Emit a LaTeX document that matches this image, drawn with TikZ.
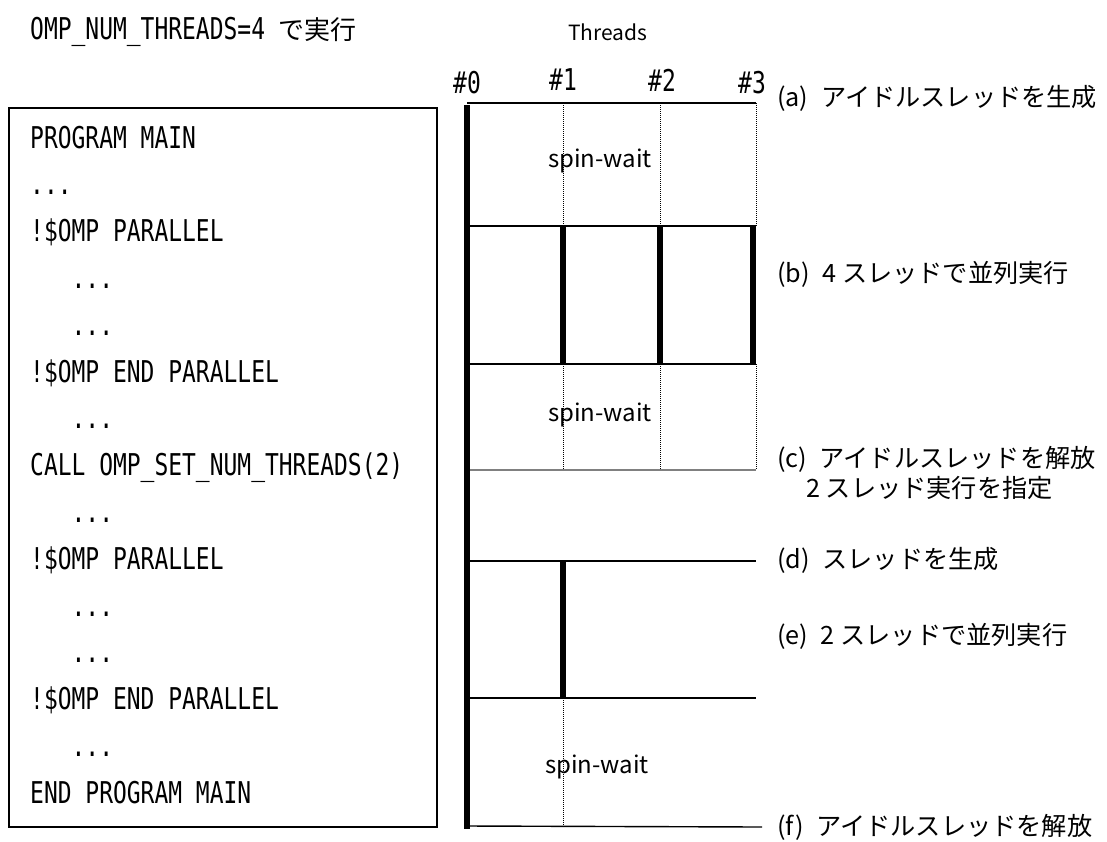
\documentclass[tikz,border=0pt]{standalone}
\usepackage{fontspec}
\setmainfont{Noto Sans CJK JP}
\newfontfamily\codefont[FakeStretch=0.765]{DejaVu Sans Mono}
\newcommand{\threedots}{...}
\newcommand{\ind}{\phantom{000}}
\newcommand{\tag}[1]{(#1)\hspace{0.5em}}

\begin{document}
\begin{tikzpicture}[x=1pt,y=-1pt,
    codeline/.style={anchor=base west,inner sep=0pt,font={\codefont\fontsize{30}{32}\selectfont}},
    tlabel/.style={inner sep=0pt,font={\codefont\fontsize{30}{32}\selectfont}},
    note/.style={anchor=west,inner sep=0pt,font={\fontsize{25.2}{27}\selectfont}},
    spinlabel/.style={inner sep=0pt,font={\fontsize{24}{26}\selectfont}},
    rowline/.style={line width=1.4pt},
    busy/.style={line width=5.5pt},
    idle/.style={line width=0.8pt,dash pattern=on 1pt off 1pt}]
  \useasboundingbox (0,0) rectangle (1107,841);

  % heading
  \node[anchor=west,inner sep=0pt] (title) at (30,32)
    {{\codefont\fontsize{30}{32}\selectfont OMP\_NUM\_THREADS=4 }{\fontsize{26}{28}\selectfont で実行}};
  \node[inner sep=0pt,font={\fontsize{21}{23}\selectfont}] (threads) at (608,32) {Threads};

  % source code
  \draw[line width=1.3pt] (9,108) rectangle (437,827);
  \foreach \txt [count=\i from 0] in {PROGRAM MAIN, \threedots, !\$OMP PARALLEL,
      \ind\threedots, \ind\threedots, !\$OMP END PARALLEL, \ind\threedots,
      CALL OMP\_SET\_NUM\_THREADS(2), \ind\threedots, !\$OMP PARALLEL,
      \ind\threedots, \ind\threedots, !\$OMP END PARALLEL, \ind\threedots,
      END PROGRAM MAIN}
    \node[codeline] (l\i) at (30,148+46.8*\i) {\txt};

  % threads and phases
  \coordinate (c0) at (467,0);
  \coordinate (c1) at (563,0);
  \coordinate (c2) at (660,0);
  \coordinate (c3) at (756,0);
  \coordinate (c3b) at (753,0);
  \coordinate (ra) at (0,103);
  \coordinate (rb) at (0,226);
  \coordinate (rc) at (0,364);
  \coordinate (rd) at (0,470);
  \coordinate (re) at (0,561);
  \coordinate (rf) at (0,698);
  \coordinate (rg) at (0,826);
  \coordinate (end) at (762,827);

  \node[tlabel] (n0) at (467,83) {\#0};
  \node[tlabel] (n1) at (563,80) {\#1};
  \node[tlabel] (n2) at (662,80) {\#2};
  \node[tlabel] (n3) at (752,83) {\#3};

  \draw[rowline] (c0 |- ra) -- (c3 |- ra);
  \draw[rowline] (c0 |- rb) -- (c3 |- rb);
  \draw[rowline] (c0 |- rc) -- (c3 |- rc);
  \draw[rowline,gray] (c0 |- rd) -- (c3 |- rd);
  \draw[rowline] (c0 |- re) -- (c3 |- re);
  \draw[rowline] (c0 |- rf) -- (c3 |- rf);
  \draw[rowline] (c0 |- rg) -- (end);

  \begin{scope}[idle]
    \draw (c1 |- ra) -- (c1 |- rb);
    \draw (c2 |- ra) -- (c2 |- rb);
    \draw (c3 |- ra) -- (c3 |- rb);
    \draw (c1 |- rc) -- (c1 |- rd);
    \draw (c2 |- rc) -- (c2 |- rd);
    \draw (c3 |- rc) -- (c3 |- rd);
    \draw (c1 |- rf) -- (c1 |- rg);
  \end{scope}

  \begin{scope}[busy]
    \draw (467,105) -- (467,829);
    \draw (c1 |- rb) -- (c1 |- rc);
    \draw (c2 |- rb) -- (c2 |- rc);
    \draw (c3b |- rb) -- (c3b |- rc);
    \draw (c1 |- re) -- (c1 |- rf);
  \end{scope}

  \node[spinlabel] (s1) at (600,161) {spin-wait};
  \node[spinlabel] (s2) at (600,415) {spin-wait};
  \node[spinlabel] (s3) at (597,767) {spin-wait};

  % phase notes
  \node[note] (pa) at (777,98) {\tag{a}アイドルスレッドを生成};
  \node[note] (pb) at (777,274) {\tag{b}4 スレッドで並列実行};
  \node[note] (pc) at (777,459) {\tag{c}アイドルスレッドを解放};
  \node[note] (pc2) at (806,488) {2 スレッド実行を指定};
  \node[note] (pd) at (777,560) {\tag{d}スレッドを生成};
  \node[note] (pe) at (777,636) {\tag{e}2 スレッドで並列実行};
  \node[note] (pf) at (777,827) {\tag{f}アイドルスレッドを解放};
\end{tikzpicture}
\end{document}
